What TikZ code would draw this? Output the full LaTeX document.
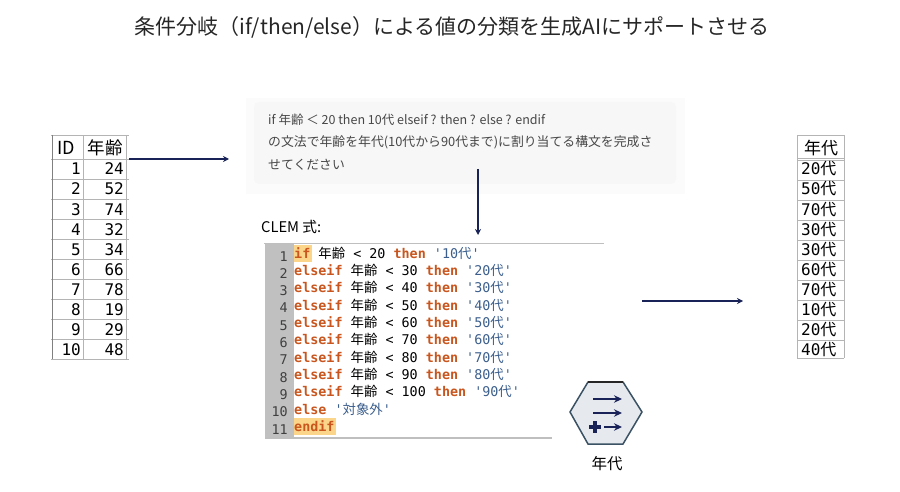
\documentclass[tikz,border=0pt]{standalone}
\usepackage{fontspec}
\usetikzlibrary{arrows.meta}
\setmainfont{Noto Sans CJK JP}
\setmonofont{DejaVu Sans Mono}
\newfontfamily\cjk{Noto Sans CJK JP}
\definecolor{navy}{HTML}{1A2358}
\definecolor{kwcolor}{HTML}{C8561E}
\definecolor{strcolor}{HTML}{3B5E8C}
\definecolor{hilite}{HTML}{FBD58A}
\definecolor{gutter}{HTML}{C0C0C0}
\definecolor{gridc}{HTML}{B4B4B4}
\definecolor{hexfill}{HTML}{E6EAEE}
\definecolor{hexline}{HTML}{3A5264}
\newcommand{\clemkw}[1]{\textcolor{kwcolor}{\bfseries #1}}
\newcommand{\clemstr}[1]{\textcolor{strcolor}{'#1{\cjk 代}'}}
\newcommand{\clemage}{{\cjk 年齢}}
\tikzset{
  link/.style={navy, line width=1.3pt, -{Stealth[length=6pt,width=6pt]}},
  iconlink/.style={navy, line width=1.1pt, -{Stealth[length=8pt,width=7.5pt]}},
  codeline/.style={anchor=base west, inner sep=0pt, font=\ttfamily\fontsize{13.4}{14}\selectfont},
  lineno/.style={anchor=base east, inner sep=0pt, text=black!75, font=\ttfamily\fontsize{13.4}{14}\selectfont},
  cellnum/.style={anchor=base east, inner sep=0pt, font=\ttfamily\fontsize{16}{18}\selectfont},
  cellage/.style={anchor=base west, inner sep=0pt, font=\ttfamily\fontsize{16}{18}\selectfont},
  grid line/.style={gridc, line width=0.8pt},
  prompt/.style={anchor=base west, inner sep=0pt, text=black!72, font=\fontsize{12.85}{14}\selectfont},
}
\begin{document}
\begin{tikzpicture}[x=1pt,y=-1pt]
  \useasboundingbox (0,0) rectangle (900,492);

  \node[inner sep=0pt, font=\fontsize{21}{24}\selectfont, text=black!85] (title) at (452,27)
    {条件分岐（if/then/else）による値の分類を生成AIにサポートさせる};

  % input table
  \foreach \y in {135,159,179,199,219,239,259,279,299,319,339,359} {
    \draw[grid line] (51,\y) -- (129,\y);
  }
  \foreach \x in {83,126} {
    \draw[grid line] (\x,135) -- (\x,359);
  }
  \draw[gray, line width=1pt] (52,135) -- (52,359);
  \node[inner sep=0pt, font=\fontsize{18}{20}\selectfont] (idhead) at (66,148) {ID};
  \node[inner sep=0pt, font=\fontsize{17.5}{20}\selectfont] (agehead) at (105,148) {年齢};
  \foreach \i/\v [count=\n from 0] in {1/24,2/52,3/74,4/32,5/34,6/66,7/78,8/19,9/29,10/48} {
    \node[cellnum] (id\i) at (81,175+20*\n) {\i};
    \node[cellnum] (age\i) at (124,175+20*\n) {\v};
  }

  % output table
  \foreach \y in {135,158,160,180,200,220,240,260,280,300,320,340,358} {
    \draw[grid line] (797,\y) -- (844,\y);
  }
  \foreach \x in {797,844} {
    \draw[grid line] (\x,135) -- (\x,358);
  }
  \node[inner sep=0pt, font=\fontsize{17}{20}\selectfont] (erahead) at (821,148) {年代};
  \foreach \v [count=\n from 0] in {20,50,70,30,30,60,70,10,20,40} {
    \node[cellage] (era\n) at (801,175+20*\n) {\v{\cjk 代}};
  }

  % prompt
  \fill[black!1.5] (246,98) rectangle (685,194);
  \fill[black!3, rounded corners=5pt] (254,102) rectangle (676,184);
  \node[prompt, font=\fontsize{12.5}{14}\selectfont] (prompt1) at (268,124.5) {if 年齢 ＜ 20 then 10代 elseif ? then ? else ? endif};
  \node[prompt] (prompt2) at (268,147) {の文法で年齢を年代(10代から90代まで)に割り当てる構文を完成さ};
  \node[prompt] (prompt3) at (268,170) {せてください};

  % code
  \node[anchor=base west, inner sep=0pt, font=\fontsize{14.7}{16}\selectfont] (clemlabel) at (261,232) {CLEM 式:};
  \fill[gutter] (265,244) rectangle (294,438);
  \fill[hilite] (294,245) rectangle (312,262);
  \fill[hilite] (294,418) rectangle (336,435);
  \draw[black!25, line width=0.8pt] (264,243.5) -- (604,243.5);
  \draw[black!25, line width=1.2pt] (265,438) -- (552,438);
  \foreach \i in {1,...,11} {
    \node[lineno] (no\i) at (288,261+17.3*\i-17.3) {\i};
  }
  \node[codeline] (code1) at (294,258.3) {\clemkw{if} \clemage{} < 20 \clemkw{then} \clemstr{10}};
  \foreach \i/\a/\b in {2/30/20,3/40/30,4/50/40,5/60/50,6/70/60,7/80/70,8/90/80,9/100/90} {
    \node[codeline] (code\i) at (294,258.3+17.3*\i-17.3) {\clemkw{elseif} \clemage{} < \a{} \clemkw{then} \clemstr{\b}};
  }
  \node[codeline] (code10) at (294,414) {\clemkw{else} \textcolor{strcolor}{'{\cjk 対象外}'}};
  \node[codeline] (code11) at (294,431.3) {\clemkw{endif}};

  % node icon
  \filldraw[fill=hexfill, draw=hexline, line width=1.5pt]
    (570,412) -- (588,382) -- (623,382) -- (642,412) -- (623,444) -- (588,444) -- cycle;
  \draw[black!85, line width=1.5pt] (588,382) -- (623,382);
  \coordinate (ra) at (593,399);
  \coordinate (rae) at (622,399);
  \coordinate (rb) at (593,413);
  \coordinate (rbe) at (622,413);
  \coordinate (rc) at (604,427);
  \coordinate (rce) at (622,427);
  \draw[iconlink] (ra) -- (rae);
  \draw[iconlink] (rb) -- (rbe);
  \draw[iconlink] (rc) -- (rce);
  \draw[navy, line width=3.5pt] (589,427) -- (601,427);
  \draw[navy, line width=3.5pt] (595,421) -- (595,433);
  \node[inner sep=0pt, font=\fontsize{15.5}{16}\selectfont] (iconlabel) at (607,464) {年代};

  % flow arrows
  \coordinate (a1) at (129,159);
  \coordinate (a2) at (229,159);
  \coordinate (b1) at (478,169);
  \coordinate (b2) at (478,235);
  \coordinate (c1) at (642,301);
  \coordinate (c2) at (743,301);
  \draw[link] (a1) -- (a2);
  \draw[link] (b1) -- (b2);
  \draw[link] (c1) -- (c2);
\end{tikzpicture}
\end{document}
